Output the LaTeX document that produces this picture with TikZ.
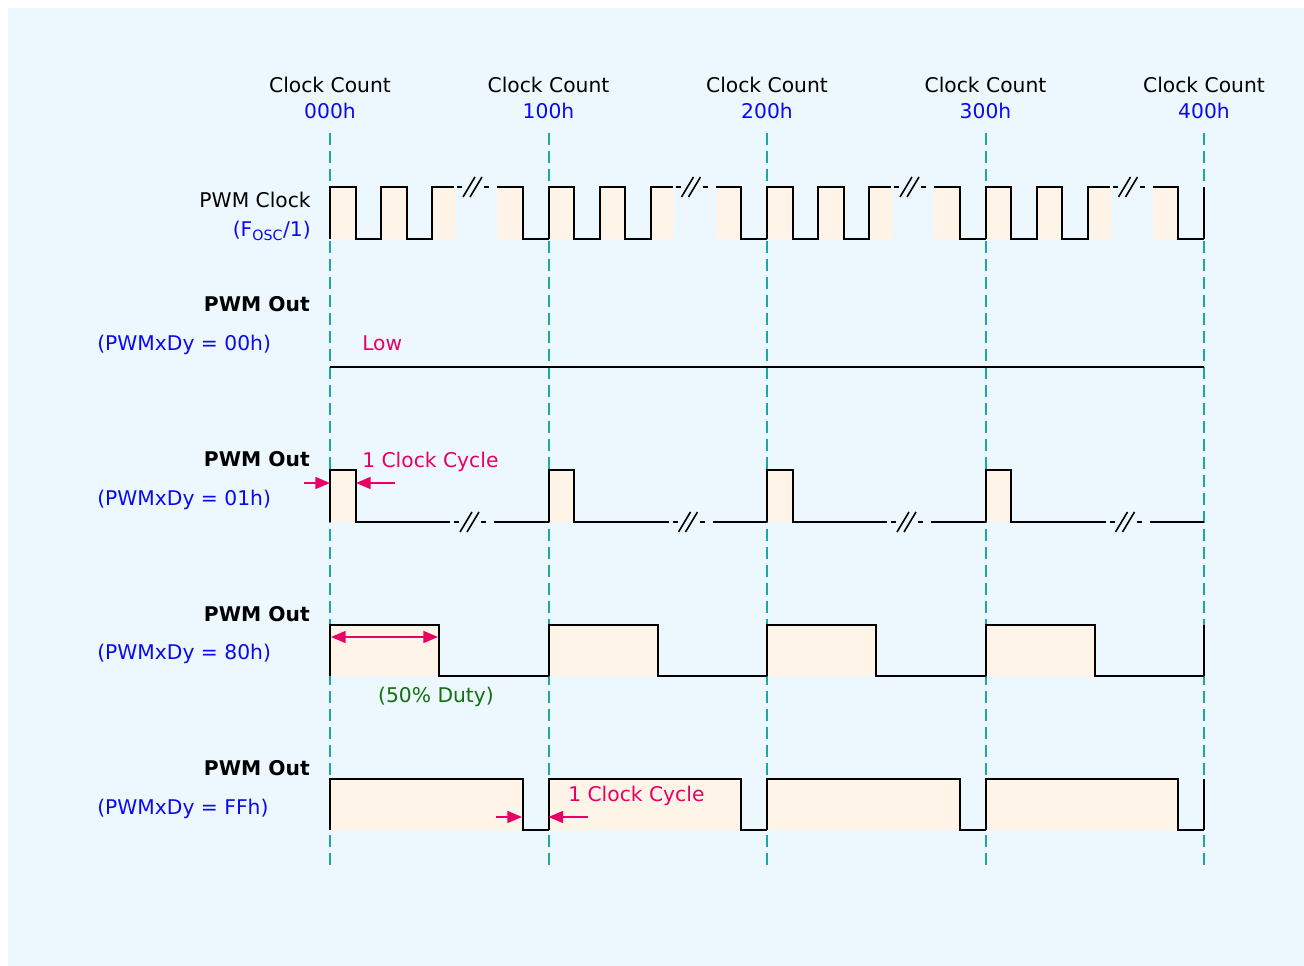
\documentclass[tikz,border=0pt]{standalone}
\usepackage{fontspec}
\setmainfont{DejaVu Sans}
\usetikzlibrary{arrows.meta}
\definecolor{bgc}{RGB}{237,247,254}
\definecolor{tealc}{RGB}{30,165,165}
\definecolor{bluec}{RGB}{10,10,240}
\definecolor{redc}{RGB}{232,0,100}
\definecolor{greenc}{RGB}{16,112,16}
\definecolor{hifill}{RGB}{255,244,231}
\newcommand\wavebreak[2]{%
  \draw[wave] ({#1-18},#2)--({#1-13},#2) ({#1+9},#2)--({#1+14},#2);
  \draw[black,line width=1.2pt] ({#1-12},{#2+10})--({#1},{#2-10}) ({#1-5},{#2+10})--({#1+7},{#2-10});}
\begin{document}
\begin{tikzpicture}[x=0.75pt,y=-0.75pt,
  wave/.style={line width=1.5pt,black,line join=miter},
  guide/.style={tealc,line width=1.5pt,dash pattern=on 9pt off 4.5pt},
  hi/.style={fill=hifill},
  lbl/.style={inner sep=0pt,font=\fontsize{15.2}{18}\selectfont},
  lblb/.style={inner sep=0pt,font=\fontsize{15.2}{18}\selectfont\bfseries},
  arr/.style={redc,line width=1.3pt,-{Triangle[length=11pt,width=9pt]}}]
\useasboundingbox (0,0) rectangle (1304,966);
\fill[white] (0,0) rectangle (1304,966);
\fill[bgc] (8,8) rectangle (1304,966);

% fills
\foreach \k in {0,...,3}{
  \pgfmathsetmacro\ox{330+218.5*\k}
  \fill[hi] (\ox,187) rectangle (\ox+25.6,239);
  \fill[hi] (\ox+51.2,187) rectangle (\ox+76.8,239);
  \fill[hi] (\ox+102.4,187) rectangle (\ox+125,239);
  \fill[hi] (\ox+167,187) rectangle (\ox+192.5,239);
  \fill[hi] (\ox,470) rectangle (\ox+25.6,522);
  \fill[hi] (\ox,625) rectangle (\ox+109.2,676);
  \fill[hi] (\ox,779) rectangle (\ox+192.5,830);
}

% guides and clock count labels
\foreach \i/\h in {0/000h,1/100h,2/200h,3/300h,4/400h}{
  \pgfmathsetmacro\xx{330+218.5*\i}
  \draw[guide] (\xx,133)--(\xx,870);
  \node[lbl,anchor=base] (cc\i) at (\xx,93) {Clock Count};
  \node[lbl,anchor=base,text=bluec] (hx\i) at (\xx,119) {\h};
}

% waveforms
\foreach \k in {0,...,3}{
  \pgfmathsetmacro\ox{330+218.5*\k}
  % clock
  \draw[wave] (\ox,239)--(\ox,187)--(\ox+25.6,187)--(\ox+25.6,239)--(\ox+51.2,239)--(\ox+51.2,187)--(\ox+76.8,187)--(\ox+76.8,239)--(\ox+102.4,239)--(\ox+102.4,187)--(\ox+124,187);
  \wavebreak{\ox+145}{187}
  \draw[wave] (\ox+167,187)--(\ox+192.5,187)--(\ox+192.5,239)--(\ox+218.5,239);
  % 01h
  \draw[wave] (\ox,522)--(\ox,470)--(\ox+25.6,470)--(\ox+25.6,522)--(\ox+120,522);
  \wavebreak{\ox+142}{522}
  \draw[wave] (\ox+164,522)--(\ox+218.5,522);
  % 80h
  \draw[wave] (\ox,676)--(\ox,625)--(\ox+109.2,625)--(\ox+109.2,676)--(\ox+218.5,676);
  % FFh
  \draw[wave] (\ox,830)--(\ox,779)--(\ox+192.5,779)--(\ox+192.5,830)--(\ox+218.5,830);
}
\draw[wave] (1204,239)--(1204,187);
\draw[wave] (1204,676)--(1204,625);
\draw[wave] (1204,830)--(1204,779);
\draw[wave] (330,367)--(1204,367);

% labels
\node[lbl,anchor=base east] (clk) at (311,208) {PWM Clock};
\node[lbl,anchor=base east,text=bluec] (fosc) at (311,237) {(F\textsubscript{OSC}/1)};

\node[lblb,anchor=base east] (o1) at (310,312) {PWM Out};
\node[lbl,anchor=base west,text=bluec] (d1) at (97,351) {(PWMxDy = 00h)};
\node[lbl,anchor=base west,text=redc] (low) at (362,351) {Low};

\node[lblb,anchor=base east] (o2) at (310,466) {PWM Out};
\node[lbl,anchor=base west,text=bluec] (d2) at (97,505) {(PWMxDy = 01h)};
\node[lbl,anchor=base west,text=redc] (cyc1) at (362,467) {1 Clock Cycle};

\node[lblb,anchor=base east] (o3) at (310,621) {PWM Out};
\node[lbl,anchor=base west,text=bluec] (d3) at (97,659) {(PWMxDy = 80h)};
\node[lbl,anchor=base,text=greenc] (duty) at (436,702) {(50\% Duty)};

\node[lblb,anchor=base east] (o4) at (310,775) {PWM Out};
\node[lbl,anchor=base west,text=bluec] (d4) at (97,814) {(PWMxDy = FFh)};
\node[lbl,anchor=base west,text=redc] (cyc2) at (568,801) {1 Clock Cycle};

% arrows
\coordinate (a1s) at (304,483); \coordinate (a1e) at (330,483);
\coordinate (a2s) at (395,483); \coordinate (a2e) at (356,483);
\draw[arr] (a1s)--(a1e);
\draw[arr] (a2s)--(a2e);
\coordinate (b1) at (331,637); \coordinate (b2) at (438,637);
\draw[redc,line width=1.3pt,{Triangle[length=11pt,width=9pt]}-{Triangle[length=11pt,width=9pt]}] (b1)--(b2);
\coordinate (c1s) at (496,817); \coordinate (c1e) at (522,817);
\coordinate (c2s) at (588,817); \coordinate (c2e) at (548.5,817);
\draw[arr] (c1s)--(c1e);
\draw[arr] (c2s)--(c2e);
\end{tikzpicture}
\end{document}
